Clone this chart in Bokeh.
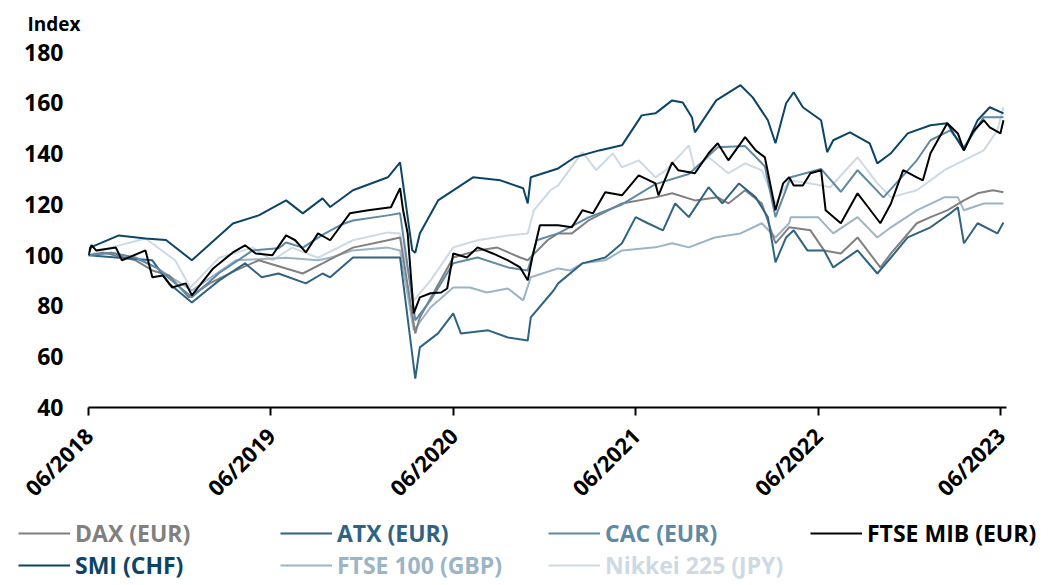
import math
from bokeh.plotting import figure
from bokeh.layouts import column
from bokeh.models import Range1d, FixedTicker, Legend, LegendItem
from bokeh.embed import file_html
from bokeh.resources import INLINE

# ---- data: months since 06/2018 and index values (start = 100) ----
tick_months = [0, 12, 24, 36, 48, 60]
tick_labels = ["06/2018", "06/2019", "06/2020", "06/2021", "06/2022", "06/2023"]
y_ticks = [40, 60, 80, 100, 120, 140, 160, 180]

dax_m = [0, 1.0, 3.1, 4.2, 5.3, 6.6, 8.0, 9.7, 11.2, 13.0, 14.1, 15.4, 17.4, 19.7, 20.5, 21.5, 21.8,
         24.0, 25.6, 26.9, 28.4, 28.9, 30.2, 30.9, 31.8, 32.9, 35.1, 37.3, 38.4, 39.9, 41.4, 42.1,
         43.2, 44.3, 45.2, 46.1, 47.5, 48.4, 49.5, 50.6, 52.1, 52.8, 54.5, 55.4, 56.5, 57.6, 58.5,
         59.5, 60.2]
dax_v = [100, 101, 98, 94, 92, 83.4, 89, 94, 98, 94.8, 92.8, 96.8, 103, 105.9, 107, 69.2, 75.5,
         99.1, 101.9, 103, 99.1, 98, 105.9, 108.6, 108.6, 113.7, 120.4, 122.8, 124.4, 121.6, 122.8,
         120.4, 125.6, 120.4, 104.7, 111, 109.8, 101.9, 100.7, 107, 95.2, 100.7, 112.6, 115, 117.7,
         121.6, 124.4, 125.6, 124.8]

atx_m = [0, 2.0, 4.2, 5.3, 6.8, 8.6, 10.3, 11.4, 12.5, 14.3, 15.4, 15.9, 17.4, 19.7, 20.5, 21.5,
         21.8, 23.0, 24.0, 24.5, 26.3, 27.6, 28.9, 29.1, 30.6, 30.9, 32.5, 34.0, 35.1, 36.0, 36.8,
         37.8, 38.6, 39.5, 40.8, 41.7, 42.8, 43.9, 44.7, 45.2, 45.9, 46.4, 47.3, 48.4, 49.0, 50.6,
         51.9, 52.8, 53.9, 55.4, 56.7, 57.2, 57.6, 58.5, 59.8, 60.2]
atx_v = [100, 99, 98, 88.9, 81.4, 90.1, 96.8, 91.3, 92.8, 88.9, 92.8, 91.3, 99.1, 99.1, 99.1, 51.4,
         63.7, 69.2, 77.1, 69.2, 70.4, 67.6, 66.4, 75.5, 86.1, 88.9, 96.8, 99.1, 104.7, 115, 112.6,
         109.8, 120.4, 115, 126.8, 120.4, 128.3, 122.8, 115, 97.2, 107, 109.8, 101.9, 101.9, 95.2,
         101.9, 92.8, 99.1, 107, 111, 116.5, 118.9, 104.7, 112.6, 108.6, 112.9]

cac_m = [0, 1.5, 3.1, 4.5, 6.8, 8.6, 10.8, 12.5, 13.0, 14.1, 15.4, 16.6, 17.4, 19.7, 20.5, 21.5,
         22.5, 24.0, 25.6, 27.6, 28.9, 29.5, 30.9, 32.9, 35.1, 37.3, 39.5, 41.4, 43.2, 44.5, 45.2,
         46.2, 48.2, 49.5, 50.6, 52.3, 54.5, 55.4, 56.7, 57.6, 58.9, 60.2]
cac_v = [100, 101, 99, 95, 83.4, 93, 101.9, 102.7, 105, 103, 108, 112, 113.7, 115.7, 116.5, 74.3,
         82.2, 96.8, 99.1, 95.2, 94, 105.9, 108.6, 114.9, 120, 128, 132, 142.5, 143, 135, 115,
         130.7, 134, 125, 133.5, 122.8, 137.4, 145.3, 149.2, 142.5, 154.4, 154.4]

mib_m = [0, 0.2, 0.5, 1.8, 2.2, 3.75, 4.2, 4.9, 5.5, 6.4, 6.8, 8.2, 9.5, 10.3, 11.0, 12.1, 13.0,
         13.6, 14.3, 15.1, 15.9, 17.2, 18.4, 19.9, 20.5, 20.7, 21.0, 21.4, 21.8, 22.5, 23.2, 23.6,
         24.0, 24.9, 25.6, 26.6, 27.6, 28.4, 28.9, 29.2, 29.7, 30.9, 31.8, 32.5, 33.2, 34.0, 35.1,
         36.2, 37.3, 37.5, 38.4, 38.8, 39.9, 40.8, 41.4, 42.1, 43.2, 43.9, 44.5, 45.2, 45.7, 46.1,
         46.4, 47.0, 47.5, 48.2, 48.5, 49.5, 50.6, 51.3, 52.1, 52.8, 53.6, 54.5, 54.9, 55.4, 56.5,
         57.2, 57.6, 58.2, 58.9, 59.3, 60.0, 60.2]
mib_v = [100, 104, 101.9, 103, 98, 101.9, 91.3, 92, 87.3, 88.9, 84.2, 94.8, 101.1, 103.9, 100.7,
         100, 107.8, 105.9, 101.1, 108.6, 105.9, 116.5, 117.7, 118.9, 126.4, 117.7, 108.6, 77.1,
         83.4, 85, 85.3, 86.9, 100.7, 99.1, 103.1, 100.7, 98, 95.2, 90.1, 99.1, 111.8, 111.8, 111,
         117.7, 116.5, 124.8, 123.6, 131.5, 128.3, 123.6, 136.6, 133.5, 132.3, 140.2, 144.1, 137.4,
         146.5, 141.3, 138.6, 117.7, 128.3, 130.7, 127.5, 127.5, 132.3, 133.5, 117.7, 112.6, 124.4,
         118.9, 112.6, 120.4, 133.5, 130.7, 129.5, 140.2, 152, 148, 141.3, 148.7, 153.2, 150.4, 148,
         153.2]

smi_m = [0, 0.1, 2.0, 3.75, 5.1, 6.8, 9.5, 11.2, 13.0, 14.1, 15.4, 15.9, 17.4, 19.7, 20.5, 21.3,
         21.5, 21.8, 23.0, 25.3, 27.1, 28.6, 28.9, 29.1, 30.9, 32.0, 33.6, 35.1, 36.4, 37.3, 38.4,
         39.1, 39.7, 39.9, 41.3, 42.9, 43.7, 44.7, 45.2, 45.9, 46.4, 47.0, 48.2, 48.6, 49.0, 50.1,
         51.4, 51.9, 52.8, 53.9, 55.4, 56.5, 57.6, 58.5, 59.3, 60.2]
smi_v = [100, 103, 107.8, 106.6, 106, 98, 112.5, 115.7, 121.6, 116.5, 122.4, 119, 125.6, 130.7,
         136.6, 102, 101, 108.6, 121.6, 130.7, 129.5, 126.4, 120.4, 130.7, 134.2, 138.6, 141.3,
         143.3, 155.1, 155.9, 161, 160.2, 154.4, 148.4, 161, 167, 162.2, 153.2, 144.1, 159.9, 164.2,
         158.3, 153.2, 140.6, 145.3, 148.4, 144.1, 136.2, 140.2, 148, 151.2, 152, 141.3, 153.2,
         158.3, 155.9]

ftse_m = [0, 1.5, 3.1, 4.5, 6.8, 9.7, 13.0, 15.1, 15.9, 17.4, 19.7, 20.5, 21.4, 22.5, 24.0, 25.1,
          26.2, 27.6, 28.6, 29.1, 30.9, 31.7, 32.5, 34.0, 35.1, 37.3, 38.4, 39.5, 41.2, 42.9, 44.3,
          45.2, 46.1, 46.2, 48.0, 49.0, 50.6, 51.9, 52.8, 54.5, 56.3, 57.2, 57.6, 58.9, 60.2]
ftse_v = [100, 101, 99, 95, 86.1, 98, 99, 98, 99, 101.9, 103, 101.9, 70.4, 79.4, 87.3, 87.3, 85.3,
          86.9, 82.2, 91.3, 94.8, 94, 96.8, 98, 101.9, 103.1, 104.7, 103.1, 107, 108.6, 112.6, 107,
          112.6, 115, 115, 108.6, 115, 107, 111, 117.7, 122.8, 122.8, 117.7, 120.4, 120.4]

nik_m = [0, 1.5, 3.75, 5.7, 6.7, 8.6, 10.8, 12.1, 13.4, 15.1, 17.4, 19.7, 20.5, 21.4, 22.5, 24.0,
         25.6, 27.6, 28.9, 29.3, 30.4, 30.9, 32.5, 33.4, 34.5, 35.1, 36.2, 37.3, 38.0, 39.5, 39.9,
         40.8, 42.1, 43.2, 44.3, 45.2, 46.1, 47.5, 48.8, 50.6, 51.9, 52.8, 54.5, 55.4, 56.3, 57.6,
         58.9, 59.8, 60.2]
nik_v = [100, 103, 106.6, 98, 87.3, 99, 103, 98, 103, 99, 105.9, 109, 108.6, 82.2, 90, 103.1, 105.9,
         107.8, 108.6, 117.7, 125.6, 127.5, 140.6, 133.5, 140.2, 134.6, 137.4, 130.7, 133.5, 143.3,
         133.5, 138.6, 132.3, 136.2, 133.5, 120.4, 129.5, 128.3, 126.8, 138.6, 128.3, 122.8, 125.6,
         129.5, 133.5, 137.4, 141.3, 149.2, 158.3]

series = [
    ("Nikkei 225 (JPY)", nik_m, nik_v, "#cddae3"),
    ("FTSE 100 (GBP)", ftse_m, ftse_v, "#9bb4c6"),
    ("DAX (EUR)", dax_m, dax_v, "#808080"),
    ("ATX (EUR)", atx_m, atx_v, "#2f6384"),
    ("CAC (EUR)", cac_m, cac_v, "#5f89a4"),
    ("SMI (CHF)", smi_m, smi_v, "#0b4467"),
    ("FTSE MIB (EUR)", mib_m, mib_v, "#000000"),
]
legend_order = ["DAX (EUR)", "ATX (EUR)", "CAC (EUR)", "FTSE MIB (EUR)",
                "SMI (CHF)", "FTSE 100 (GBP)", "Nikkei 225 (JPY)"]

FONT = "Open Sans"
W = 1049

p = figure(width=W, height=516, output_backend="svg", toolbar_location=None,
           x_range=Range1d(0, 60.4), y_range=Range1d(40, 185),
           min_border_left=88, min_border_right=43, min_border_top=39, min_border_bottom=109,
           title="Index")
p.frame_align = False
p.outline_line_color = None
p.grid.visible = False
p.title.align = "left"
p.title.offset = -61
p.title.text_font = FONT
p.title.text_font_style = "bold"
p.title.text_font_size = "19px"
p.title.text_color = "black"
p.title.standoff = 6

colors = {}
for name, xs, ys, col in series:
    p.line(xs, ys, line_color=col, line_width=2)
    colors[name] = col

# axes
p.xaxis.ticker = FixedTicker(ticks=tick_months)
p.xaxis.major_label_overrides = {m: l for m, l in zip(tick_months, tick_labels)}
p.xaxis.major_label_orientation = math.pi / 4
p.xaxis.axis_line_color = "black"
p.xaxis.axis_line_width = 2
p.xaxis.major_tick_line_color = "black"
p.xaxis.major_tick_line_width = 2
p.xaxis.major_tick_out = 8
p.xaxis.major_tick_in = 0
p.xaxis.minor_tick_line_color = None
p.xaxis.major_label_text_font = FONT
p.xaxis.major_label_text_font_style = "bold"
p.xaxis.major_label_text_font_size = "22px"
p.xaxis.major_label_text_color = "black"
p.xaxis.major_label_standoff = 16

p.yaxis.ticker = FixedTicker(ticks=y_ticks)
p.yaxis.axis_line_color = None
p.yaxis.major_tick_line_color = None
p.yaxis.minor_tick_line_color = None
p.yaxis.major_tick_out = 0
p.yaxis.major_tick_in = 0
p.yaxis.major_label_standoff = 25
p.yaxis.major_label_text_font = FONT
p.yaxis.major_label_text_font_style = "bold"
p.yaxis.major_label_text_font_size = "23px"
p.yaxis.major_label_text_color = "black"

# legend panel: two rows, four columns, coloured labels
leg = figure(width=W, height=69, output_backend="svg", toolbar_location=None,
             x_range=Range1d(0, 1), y_range=Range1d(0, 1),
             min_border_left=0, min_border_right=0, min_border_top=0, min_border_bottom=0)
leg.frame_align = False
leg.axis.visible = False
leg.grid.visible = False
leg.outline_line_color = None

col_x = [18, 280, 548, 810]
row_y = [36, 4]
for i, name in enumerate(legend_order):
    col = colors[name]
    dummy = leg.line(x=[float("nan")], y=[float("nan")], line_color=col, line_width=2)
    lg = Legend(items=[LegendItem(label=name, renderers=[dummy])],
                location=(col_x[i % 4], row_y[i // 4]),
                label_text_color=col, label_text_font=FONT, label_text_font_style="bold",
                label_text_font_size="23px", glyph_width=52, glyph_height=20, label_height=20,
                label_standoff=5, padding=0, margin=0, border_line_color=None,
                background_fill_alpha=0)
    leg.add_layout(lg)

open("out.html", "w").write(file_html(column(p, leg, spacing=0), INLINE))
